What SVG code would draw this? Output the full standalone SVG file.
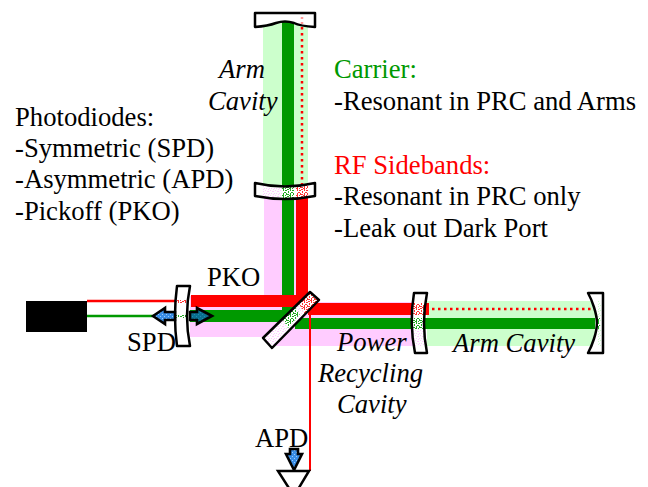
<svg xmlns="http://www.w3.org/2000/svg" width="648" height="487" viewBox="0 0 648 487">
<style>
text{font-family:"Liberation Serif","Times New Roman",serif;font-size:26.67px;fill:#000}
.i{font-style:italic}
.m{stroke:#000;stroke-width:2.5;stroke-linejoin:round}
.w{fill:#fff}
.arrow{stroke:#000;stroke-width:2.6;stroke-linejoin:miter}
</style>
<defs>
<pattern id="spR" width="7" height="7" patternUnits="userSpaceOnUse"><rect width="7" height="7" fill="#fff"/><path d="M0 0h2v1h-2zM3 0h1v2h-1zM5 1h2v1h-2zM1 2h1v2h-1zM4 3h2v1h-2zM0 5h2v1h-2zM3 4h1v2h-1zM6 4h1v2h-1zM2 6h2v1h-2zM5 6h1v1h-1z" fill="#f33"/></pattern>
<pattern id="spG" width="7" height="7" patternUnits="userSpaceOnUse"><rect width="7" height="7" fill="#fff"/><path d="M0 0h2v1h-2zM3 0h1v2h-1zM5 1h2v1h-2zM1 2h1v2h-1zM4 3h2v1h-2zM0 5h2v1h-2zM3 4h1v2h-1zM6 4h1v2h-1zM2 6h2v1h-2zM5 6h1v1h-1z" fill="#2a2"/></pattern>
<pattern id="spP" width="5" height="5" patternUnits="userSpaceOnUse"><rect width="5" height="5" fill="#fff"/><path d="M0 0h1v1h-1zM2 1h2v1h-2zM4 3h1v1h-1zM1 3h1v1h-1zM3 4h1v1h-1z" fill="#fcf"/></pattern>
<pattern id="spL" width="5" height="5" patternUnits="userSpaceOnUse"><rect width="5" height="5" fill="#fff"/><path d="M0 0h1v1h-1zM2 1h2v1h-2zM4 3h1v1h-1zM1 3h1v1h-1zM3 4h1v1h-1z" fill="#cfc"/></pattern>
<pattern id="spB" width="4" height="4" patternUnits="userSpaceOnUse"><rect width="4" height="4" fill="#3a8ee6"/><path d="M0 0h1v1h-1zM2 2h1v1h-1z" fill="#9cf"/></pattern>
<pattern id="spT" width="4" height="4" patternUnits="userSpaceOnUse"><rect width="4" height="4" fill="#0b6f8f"/><path d="M0 0h1v1h-1zM2 2h1v1h-1z" fill="#1a8fb0"/></pattern>
<clipPath id="cItmY"><path d="M255 183Q285 190 315 183V196Q285 202 255 196Z"/></clipPath>
<clipPath id="cItmX"><path d="M177 286H190Q184 316 190 346H177Q173 316 177 286Z"/></clipPath>
<clipPath id="cItmR"><path d="M414 293H427Q421 323 427 353H415Q409 323 414 293Z"/></clipPath>
<clipPath id="cBs"><path d="M310 292L319 300L272 348L263 338Z"/></clipPath>
</defs>

<g id="connectors">
<rect x="263" y="20" width="45" height="165" fill="#cfc"/>
<rect x="427" y="301" width="170" height="45" fill="#cfc"/>
<path d="M264 195H308V302H415V346H270V337H190V296H264Z" fill="#fcf"/>
<rect x="282" y="22" width="12" height="300" fill="#090"/>
<rect x="296" y="195" width="12" height="108" fill="#f00"/>
<rect x="191" y="295" width="117" height="12" fill="#f00"/>
<rect x="190" y="310" width="104" height="12" fill="#090"/>
<rect x="308" y="303" width="121" height="12" fill="#f00"/>
<rect x="295" y="318" width="300" height="11" fill="#090"/>
<path d="M87 301H177" stroke="#f00" stroke-width="2.5" fill="none"/>
<path d="M87 316H177" stroke="#090" stroke-width="2.5" fill="none"/>
<path d="M302 21V185" stroke="#f00" stroke-width="2.5" stroke-dasharray="2.5 3.5" fill="none"/>
<path d="M432 309H594" stroke="#f00" stroke-width="2.5" stroke-dasharray="2.5 3.5" fill="none"/>
<path d="M310 315V471" stroke="#f00" stroke-width="2" fill="none"/>
</g>

<g id="laser"><rect x="26" y="301" width="61" height="31" fill="#000"/></g>

<g id="end-mirror-y">
<path class="m w" d="M255 13H315V27Q300 26 294 23Q285 20 276 23Q268 26 255 27Z"/>
<path d="M302 17V26" stroke="#f99" stroke-width="2.5" stroke-dasharray="2 3"/>
</g>

<g id="input-mirror-y">
<path class="w" d="M255 183Q285 190 315 183V196Q285 202 255 196Z"/>
<g clip-path="url(#cItmY)">
<rect x="263" y="183" width="19" height="20" fill="url(#spP)"/>
<rect x="282" y="183" width="12" height="20" fill="url(#spG)"/>
<rect x="296" y="183" width="12" height="20" fill="url(#spR)"/>
</g>
<path fill="none" class="m" d="M255 183Q285 190 315 183V196Q285 202 255 196Z"/>
</g>

<g id="recycling-mirror">
<path class="w" d="M177 286H190Q184 316 190 346H177Q173 316 177 286Z"/>
<g clip-path="url(#cItmX)">
<rect x="172" y="300" width="20" height="3" fill="url(#spR)"/>
<rect x="172" y="315" width="20" height="3" fill="url(#spG)"/>
</g>
<path fill="none" class="m" d="M177 286H190Q184 316 190 346H177Q173 316 177 286Z"/>
</g>

<g id="input-mirror-x">
<path class="w" d="M414 293H427Q421 323 427 353H415Q409 323 414 293Z"/>
<g clip-path="url(#cItmR)">
<rect x="408" y="303" width="21" height="12" fill="url(#spR)"/>
<rect x="408" y="318" width="21" height="11" fill="url(#spG)"/>
<rect x="408" y="329" width="21" height="17" fill="url(#spP)"/>
</g>
<path fill="none" class="m" d="M414 293H427Q421 323 427 353H415Q409 323 414 293Z"/>
</g>

<g id="end-mirror-x">
<path class="m w" d="M588 293H603V353H588C592 346 597 332 597 323C597 314 592 300 588 293Z"/>
<rect x="598" y="301" width="3" height="45" fill="url(#spL)"/>
<rect x="598" y="318" width="2" height="11" fill="url(#spG)"/>
</g>

<g id="beam-splitter">
<path class="w" d="M310 292L319 300L272 348L263 338Z"/>
<g clip-path="url(#cBs)">
<rect x="260" y="290" width="60" height="60" fill="url(#spP)"/>
<path d="M298 302L310 290L322 302L306 316Z" fill="url(#spR)"/>
<path d="M282 318L294 306L300 314L288 328Z" fill="url(#spG)"/>
</g>
<path class="m" fill="none" d="M310 292L319 300L272 348L263 338Z"/>
</g>

<g id="spd-arrows">
<path class="arrow" fill="url(#spB)" d="M153 316L165 308V312H175V320H165V324Z"/>
<path class="arrow" fill="url(#spT)" d="M212 316L197 308V312H190V320H197V324Z"/>
</g>

<g id="apd-detector">
<path class="arrow" fill="url(#spB)" d="M294 470L286 454H290V449H298V454H302Z"/>
<path d="M278 471H309L294 496Z" fill="#fff" stroke="#000" stroke-width="2.5"/>
</g>

<g id="labels">
<text x="15" y="126">Photodiodes:</text>
<text x="15" y="157">-Symmetric (SPD)</text>
<text x="15" y="188">-Asymmetric (APD)</text>
<text x="15" y="220">-Pickoff (PKO)</text>
<text x="334" y="78" style="fill:#090">Carrier:</text>
<text x="334" y="110">-Resonant in PRC and Arms</text>
<text x="334" y="174" style="fill:#f00">RF Sidebands:</text>
<text x="334" y="205">-Resonant in PRC only</text>
<text x="334" y="237">-Leak out Dark Port</text>
<text class="i" x="219" y="78">Arm</text>
<text class="i" x="208" y="110">Cavity</text>
<text x="207" y="286">PKO</text>
<text x="127" y="351">SPD</text>
<text x="255" y="447">APD</text>
<text class="i" x="337" y="351">Power</text>
<text class="i" x="318" y="382">Recycling</text>
<text class="i" x="337" y="413">Cavity</text>
<text class="i" x="453" y="352">Arm Cavity</text>
</g>
</svg>
